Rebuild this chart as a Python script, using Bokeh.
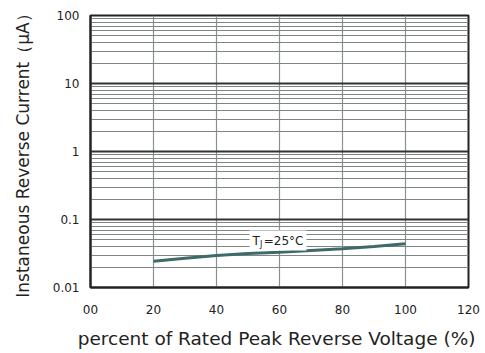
from bokeh.plotting import figure
from bokeh.models import Range1d, FixedTicker, CustomJSTickFormatter, Label
from bokeh.embed import file_html
from bokeh.resources import INLINE

# data
voltage_pct = [20, 30, 40, 50, 60, 70, 80, 90, 100]
reverse_current = [0.0244, 0.027, 0.0295, 0.0315, 0.033, 0.035, 0.037, 0.040, 0.044]
x_ticks = [0, 20, 40, 60, 80, 100, 120]
x_tick_labels = ["00", "20", "40", "60", "80", "100", "120"]
y_ticks = [0.01, 0.1, 1, 10, 100]
series_label = "T_J=25°C"

FONT = "DejaVu Sans"

p = figure(width=485, height=353, output_backend="svg", toolbar_location=None,
           x_range=Range1d(0, 120), y_range=Range1d(0.01, 100), y_axis_type="log",
           min_border_left=90, min_border_right=17, min_border_top=15, min_border_bottom=66)
p.background_fill_color = "white"
p.border_fill_color = "white"
p.outline_line_color = "#222222"
p.outline_line_width = 2

minor = [m * d for d in [0.01, 0.1, 1, 10] for m in range(2, 10)]
p.yaxis.ticker = FixedTicker(ticks=y_ticks, minor_ticks=minor)
p.yaxis.formatter = CustomJSTickFormatter(code="return String(Number(tick.toPrecision(6)));")
p.xaxis.ticker = FixedTicker(ticks=x_ticks)
p.xaxis.major_label_overrides = {t: s for t, s in zip(x_ticks, x_tick_labels)}

for ax in [p.xaxis[0], p.yaxis[0]]:
    ax.axis_line_color = "#222222"
    ax.axis_line_width = 2
    ax.major_tick_line_color = None
    ax.minor_tick_line_color = None
    ax.major_label_text_font = FONT
    ax.major_label_text_font_size = "12px"
    ax.major_label_text_color = "#222222"
    ax.axis_label_text_font = FONT
    ax.axis_label_text_font_style = "normal"
    ax.axis_label_text_color = "#222222"

p.yaxis.axis_label = "Instaneous Reverse Current（μA）"
p.yaxis.axis_label_text_font_size = "17px"
p.yaxis.major_label_standoff = 5
p.yaxis.axis_label_standoff = 17
p.xaxis.axis_label = "percent of Rated  Peak Reverse Voltage (%)"
p.xaxis.axis_label_text_font_size = "18.5px"
p.xaxis.major_label_standoff = 11
p.xaxis.axis_label_standoff = 11

p.xgrid.grid_line_color = "#8a8f8f"
p.xgrid.grid_line_width = 1.2
p.ygrid.grid_line_color = "#333333"
p.ygrid.grid_line_width = 1.8
p.ygrid.minor_grid_line_color = "#7f8585"
p.ygrid.minor_grid_line_width = 1

p.line(voltage_pct, reverse_current, line_color="#3f6a6a", line_width=3)

base, sub = series_label.split("_")
lab = Label(x=50.5, y=0.049, text=base + "\u00a0" + sub[1:], text_font=FONT, text_font_size="12px",
            text_color="#222222", text_baseline="middle", background_fill_color="white")
lab.padding = 3
p.add_layout(lab)
p.add_layout(Label(x=50.5, y=0.049, x_offset=10.3, y_offset=-3.5, text=sub[0], text_font=FONT,
                   text_font_size="8px", text_color="#222222", text_baseline="middle"))

open("out.html", "w").write(file_html(p, INLINE))
